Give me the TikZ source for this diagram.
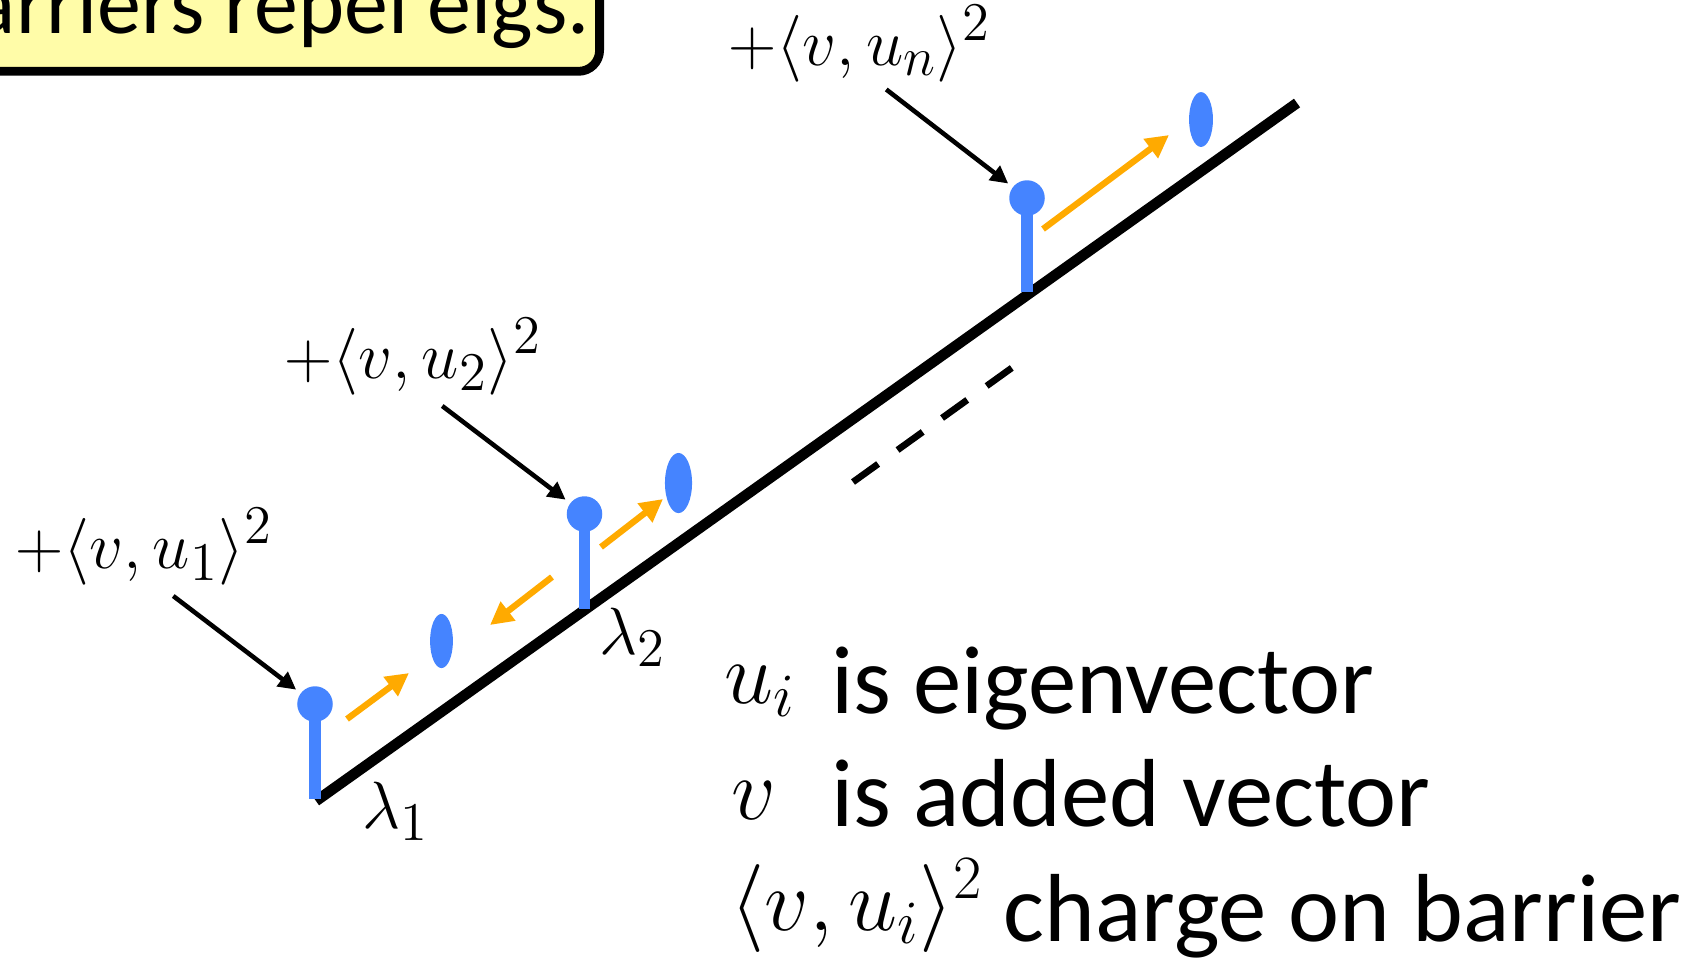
\documentclass[tikz,border=0pt]{standalone}
\usepackage{fix-cm}
\usepackage{fontspec}
\setmainfont{Carlito}
\usetikzlibrary{arrows.meta,shapes.geometric}
\definecolor{barblue}{RGB}{69,132,255}
\definecolor{pushorange}{RGB}{255,170,0}
\definecolor{noteyellow}{RGB}{255,252,168}
% larger scripts in the charge labels
\newcommand\qs[1]{\mbox{\fontsize{15.5}{18}\selectfont$#1$}}
\tikzset{
  ball/.style={circle, fill=barblue, minimum size=10.1pt, inner sep=0pt},
  stem/.style={barblue, line width=3.4pt},
  charge/.style={ellipse, fill=barblue, inner sep=0pt},
  push/.style={pushorange, line width=1.8pt, -{Triangle[length=6.5pt,width=6.5pt]}},
  pointer/.style={line width=1.3pt, -{Triangle[length=5pt,width=5pt]}, shorten >=1.5pt},
  qlabel/.style={font=\fontsize{19}{22}\selectfont, inner sep=0pt, anchor=base west},
  legmath/.style={font=\fontsize{25}{29}\selectfont, inner sep=0pt, anchor=base west},
  legtext/.style={font=\fontsize{27.5}{32}\selectfont, inner sep=0pt, anchor=base west},
  note/.style={draw, line width=2.5pt, fill=noteyellow, rounded corners=6pt,
    inner xsep=2.8pt, inner ysep=6.6pt, font=\fontsize{25}{30}\selectfont}
}
\begin{document}
\begin{tikzpicture}[x=0.01cm, y=-0.01cm, line join=round]
\clip (0,0) rectangle (1697,959);
% heading box, cut by the frame
\node[note, anchor=base east] (tag) at (604,33) {Barriers repel eigs.};
% the axis of eigenvalues
\draw[line width=3pt] (316,801) -- (1297,103);
\draw[line width=1.9pt, dash pattern=on 8.8pt off 6.8pt] (853,482) -- (1013,367);
% barriers
\node[ball] (b1) at (315,704) {};
\node[ball] (b2) at (584.5,514) {};
\node[ball] (bn) at (1027,198) {};
\draw[stem] (b1.center) -- (315,799);
\draw[stem] (b2.center) -- (584.5,609);
\draw[stem] (bn.center) -- (1027,292);
% eigenvalues pushed away
\node[charge, minimum width=6.5pt, minimum height=15.4pt] (e1) at (441.5,641) {};
\node[charge, minimum width=7.7pt, minimum height=17.1pt] (e2) at (678.5,483) {};
\node[charge, minimum width=6.8pt, minimum height=15.6pt] (en) at (1201,119.5) {};
\draw[push] (347,719) -- ++(62,-46);
\draw[push] (601,547) -- ++(62,-48);
\draw[push] (552,577) -- ++(-62,48);
\draw[push] (1043,229) -- ++(126,-94);
% charges
\node[qlabel] (q1) at (15,568) {$+\langle v,u_{\qs{1}}\rangle^{\qs{2}}$};
\node[qlabel] (q2) at (284,378) {$+\langle v,u_{\qs{2}}\rangle^{\qs{2}}$};
\node[qlabel] (qn) at (728,65) {$+\langle v,u_{\qs{n}}\rangle^{\qs{2}}$};
\draw[pointer] ([shift={(45pt,-3pt)}]q1.south west) -- (b1);
\draw[pointer] ([shift={(45pt,-3pt)}]q2.south west) -- (b2);
\draw[pointer] ([shift={(45pt,-2pt)}]qn.south west) -- (bn);
\node[qlabel] (lam1) at (362,828) {$\lambda_{\qs{1}}$};
\node[qlabel] (lam2) at (599,654) {$\lambda_{\qs{2}}$};
% legend
\node[legmath] (ui) at (724,703) {$u_i$};
\node[legtext] (uitext) at (831,713) {is eigenvector};
\node[legmath] (v) at (731,819) {$v$};
\node[legtext] (vtext) at (831,826) {is added vector};
\node[legmath] (vu) at (730,930) {$\langle v,u_i\rangle^2$};
\node[legtext] (vutext) at (1003,941) {charge on barrier};
\end{tikzpicture}
\end{document}
